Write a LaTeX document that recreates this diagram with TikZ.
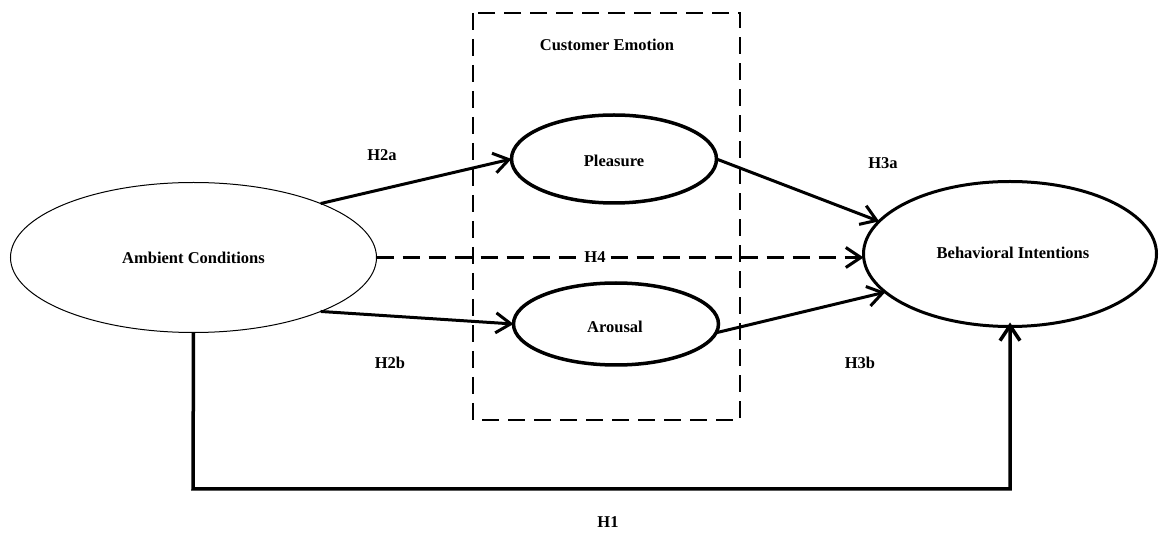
\documentclass[tikz,border=0pt]{standalone}
\usepackage{fontspec}
\setmainfont{Liberation Serif}
\usetikzlibrary{shapes.geometric,arrows.meta}
\begin{document}
\begin{tikzpicture}[x=1pt,y=-1pt,
  every node/.style={font=\fontsize{16.5}{19}\selectfont\bfseries},
  construct/.style={ellipse,draw,inner sep=0pt,outer sep=0pt},
  lbl/.style={inner sep=1pt},
  link/.style={line width=3pt,-{Straight Barb[length=15pt,width=20pt]}},
  dashline/.style={dash pattern=on 17pt off 9pt}
]
\useasboundingbox (0,0) rectangle (1160,534);
% customer emotion box
\draw[line width=2.5pt,dashline] (473,13) rectangle (740,420);
\node[lbl] (ce) at (607,45) {Customer Emotion};
% constructs
\node[construct,line width=1pt,minimum width=366pt,minimum height=150pt] (amb) at (193.5,257.5) {Ambient Conditions};
\node[construct,line width=3.5pt,minimum width=205pt,minimum height=88pt] (ple) at (614,159) {};
\node[lbl] (plet) at (614,161) {Pleasure};
\node[construct,line width=3.5pt,minimum width=205pt,minimum height=82pt] (aro) at (616,324) {};
\node[lbl] (arot) at (615,327) {Arousal};
\node[construct,line width=3pt,minimum width=293pt,minimum height=145pt] (beh) at (1010,254) {};
\node[lbl] (beht) at (1013,253) {Behavioral Intentions};
% connectors
\draw[link] (amb.23) -- (ple.west);
\draw[link] (amb.-23) -- (aro.west);
\draw[link] (ple.east) -- (beh.166);
\draw[link] (aro.-5) -- (beh.197);
\draw[link,dashline] (amb.east) -- (amb.east -| beh.west);
\draw[line width=3.5pt,-{Straight Barb[length=15pt,width=20pt]},shorten >=-4pt] (amb.south) -- (193,489) -| (beh.south);
% labels
\node[lbl] (h2a) at (382,155) {H2a};
\node[lbl] (h2b) at (390,363) {H2b};
\node[lbl] (h3a) at (883,163) {H3a};
\node[lbl] (h3b) at (860,363) {H3b};
\node[lbl,fill=white] (h4) at (595,257) {H4};
\node[lbl] (h1) at (608,522) {H1};
\end{tikzpicture}
\end{document}
